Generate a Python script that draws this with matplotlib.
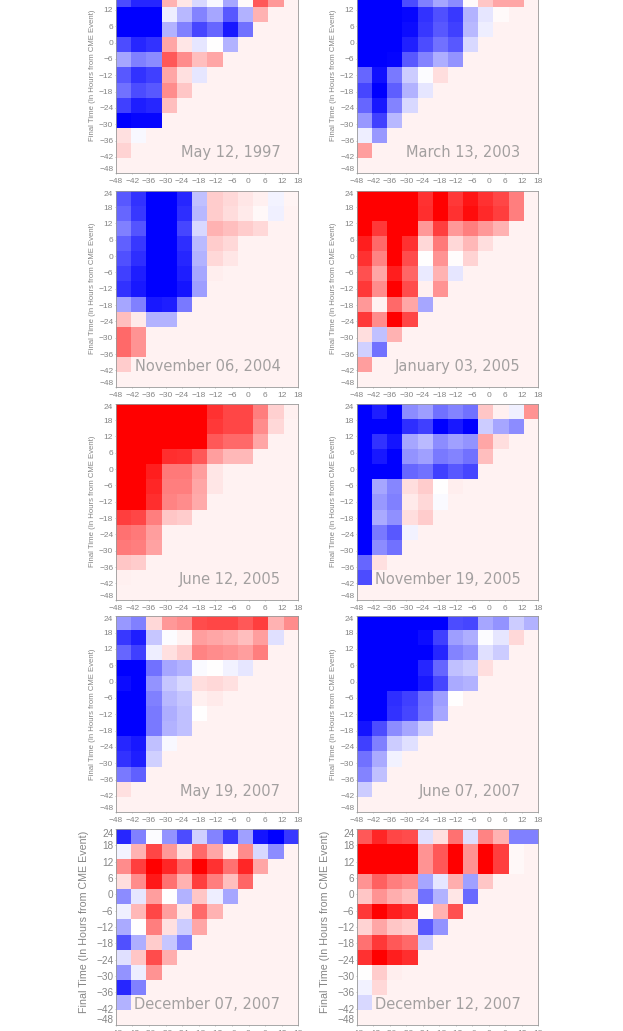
import numpy as np
import matplotlib
matplotlib.use('Agg')
import matplotlib.pyplot as plt

FONDO = 5  # valor del triangulo vacio, rosa muy claro

x_ticks = ['\u221248', '\u221242', '\u221236', '\u221230', '\u221224', '\u221218', '\u221212', '\u22126', '0', '6', '12', '18']
y_ticks = ['24', '18', '12', '6', '0', '\u22126', '\u221212', '\u221218', '\u221224', '\u221230', '\u221236', '\u221242', '\u221248']

# fila 0 del primer par queda fuera de la imagen
may97 = [[np.nan] * 12,
         [-70, -85, -85, 30, 10, -15, -3, -35, 2, 65, 40],
         [-100, -100, -100, -7, -28, -48, -35, -65, -30, 30],
         [-100, -100, -100, -30, -50, -72, -60, -90, -55],
         [-70, -85, -80, 35, 10, -10, 0, -30],
         [-35, -50, -45, 65, 45, 25, 35],
         [-65, -80, -75, 35, 12, -10],
         [-55, -70, -65, 45, 22],
         [-75, -88, -85, 25],
         [-100, -97, -97],
         [12, -3],
         [17],
         []]
mar03 = [[np.nan] * 12,
         [-100, -100, -100, -70, -50, -35, -45, 2, 22, 35, 35],
         [-100, -100, -100, -97, -80, -68, -78, -30, -10, 2],
         [-100, -100, -100, -95, -78, -65, -75, -28, -7],
         [-100, -100, -100, -87, -70, -55, -65, -15],
         [-100, -100, -98, -65, -48, -32, -42],
         [-60, -93, -52, -20, -1, 13],
         [-72, -100, -63, -30, -10],
         [-60, -90, -48, -15],
         [-40, -75, -28],
         [-7, -40],
         [38],
         []]
nov04 = [[-65, -80, -100, -100, -85, -25, 20, 15, 10, 6, -4, 4],
         [-60, -78, -100, -100, -82, -28, 20, 14, 8, 3, -6],
         [-50, -67, -100, -100, -72, -15, 30, 25, 20, 15],
         [-62, -78, -100, -100, -82, -27, 20, 15, 5],
         [-68, -82, -100, -100, -85, -30, 15, 10],
         [-75, -88, -100, -100, -88, -35, 7],
         [-80, -90, -100, -100, -92, -38],
         [-35, -50, -90, -88, -52],
         [25, 8, -30, -30],
         [58, 42],
         [58, 42],
         [20],
         []]
ene05 = [[100, 100, 100, 100, 80, 100, 78, 92, 80, 72, 50],
         [100, 100, 100, 100, 82, 100, 80, 95, 83, 75, 50],
         [100, 78, 100, 100, 40, 75, 40, 50, 40, 30],
         [88, 58, 100, 80, 15, 52, 15, 28, 13],
         [80, 48, 100, 70, 0, 42, 1, 17],
         [68, 35, 88, 60, -8, 30, -10],
         [78, 45, 100, 70, 6, 42],
         [40, 5, 58, 35, -35],
         [78, 45, 100, 72],
         [13, -25, 30],
         [-18, -55],
         [38],
         []]
jun05 = [[100, 100, 100, 100, 100, 100, 80, 72, 72, 50, 18, 6],
         [100, 100, 100, 100, 100, 100, 78, 72, 72, 45, 15],
         [100, 100, 100, 100, 100, 100, 65, 58, 58, 35],
         [100, 100, 100, 82, 80, 65, 38, 28, 28],
         [100, 100, 88, 52, 52, 38, 10],
         [100, 100, 85, 50, 50, 35, 10],
         [100, 100, 82, 48, 45, 33],
         [75, 72, 50, 22, 20],
         [55, 52, 38],
         [52, 50, 36],
         [22, 20],
         [6],
         []]
nov05 = [[-100, -88, -100, -45, -38, -55, -48, -55, 22, 6, -6, 42],
         [-100, -100, -100, -82, -75, -100, -90, -100, -20, -35, -45],
         [-100, -80, -92, -35, -27, -45, -37, -42, 35, 13],
         [-100, -90, -100, -42, -37, -52, -48, -55, 25],
         [-100, -100, -100, -60, -55, -75, -65, -72],
         [-100, -35, -47, 13, 20, 0, 7],
         [-100, -40, -50, 8, 15, -2],
         [-100, -33, -43, 13, 20],
         [-100, -52, -65, -5],
         [-100, -45, -55],
         [-60, 12],
         [-70],
         []]
may07 = [[-40, -50, 15, 40, 45, 70, 72, 72, 65, 75, 30, 45],
         [-78, -88, -22, -1, 5, 38, 35, 32, 25, 38, -12],
         [-60, -75, -7, 12, 20, 48, 45, 42, 38, 50],
         [-100, -100, -55, -35, -30, -2, 0, -5, -10],
         [-95, -100, -42, -22, -15, 13, 15, 12],
         [-100, -100, -50, -28, -22, 6, 8],
         [-100, -100, -52, -32, -25, 0],
         [-100, -100, -52, -30, -25],
         [-85, -90, -25, -3],
         [-80, -88, -18],
         [-52, -62],
         [12],
         []]
jun07 = [[-100, -100, -100, -100, -100, -100, -70, -72, -35, -42, -20, -30],
         [-100, -100, -100, -100, -95, -75, -38, -32, -1, -10, 15],
         [-100, -100, -100, -100, -100, -85, -48, -42, -12, -20],
         [-100, -100, -100, -100, -85, -60, -25, -20, 13],
         [-100, -100, -100, -100, -90, -72, -33, -30],
         [-100, -100, -82, -75, -57, -38, 0],
         [-100, -100, -80, -72, -55, -35],
         [-92, -70, -45, -35, -20],
         [-75, -50, -20, -12],
         [-55, -33, -5],
         [-48, -25],
         [-20],
         []]
dic07 = [[-85, -50, -1, -42, -70, -18, -48, -78, -37, -92, -100, -78],
         [-4, 30, 72, 40, 12, 58, 35, 6, 45, -15, -45],
         [45, 75, 100, 85, 60, 100, 80, 55, 85, 35],
         [13, 45, 90, 55, 30, 75, 50, 25, 60],
         [-45, -10, 38, 0, -30, 22, -7, -35],
         [-6, 28, 72, 38, 10, 58, 30],
         [-33, 0, 50, 12, -20, 35],
         [-68, -32, 20, -22, -50],
         [-12, 22, 70, 32],
         [-42, -7, 42],
         [-85, -50],
         [-30],
         []]
dic12 = [[65, 85, 72, 70, -12, 12, 55, -13, 48, 30, -50, -50],
         [100, 100, 100, 100, 42, 65, 100, 42, 100, 75, 3],
         [100, 100, 100, 100, 42, 65, 100, 42, 100, 75, 3],
         [42, 62, 50, 45, -35, -10, 32, -37, 22],
         [22, 42, 32, 25, -55, -30, 10, -58],
         [78, 100, 88, 82, 2, 30, 68],
         [17, 35, 22, 18, -65, -42],
         [55, 78, 65, 58, -20],
         [80, 100, 88, 82],
         [0, 20, 7],
         [-5, 15],
         [-15],
         []]

W, H = 623, 1031
IZQ = [115.7, 356.7]
DER = [298.3, 538.3]
GRIS = '#858585'

paneles = [(may97, 'May 12, 1997', 0, 173.3),
           (mar03, 'March 13, 2003', 1, 173.3),
           (nov04, 'November 06, 2004', 0, 386.7),
           (ene05, 'January 03, 2005', 1, 386.7),
           (jun05, 'June 12, 2005', 0, 599.7),
           (nov05, 'November 19, 2005', 1, 599.7),
           (may07, 'May 19, 2007', 0, 812.3),
           (jun07, 'June 07, 2007', 1, 812.3),
           (dic07, 'December 07, 2007', 0, 1025.0),
           (dic12, 'December 12, 2007', 1, 1025.0)]

plt.rcParams['font.family'] = ['Liberation Sans', 'DejaVu Sans']
fig = plt.figure(figsize=(W / 100, H / 100), dpi=100, facecolor='white')

for filas, titulo, col, abajo in paneles:
    izq, der = IZQ[col], DER[col]
    alto = 196.0
    ax = fig.add_axes([izq / W, 1 - abajo / H, (der - izq) / W, alto / H])

    # rellenar el triangulo vacio
    m = np.array([f + [FONDO] * (12 - len(f)) for f in filas], dtype=float)
    ax.imshow(m, cmap='bwr', vmin=-100, vmax=100, extent=(0, 12, 13, 0),
              aspect='auto', interpolation='nearest')

    grande = abajo > 1000
    fs = 7.2 if grande else 6.0
    ax.set_xticks(np.linspace(0, 12, 12))
    ax.set_xticklabels(x_ticks, fontsize=6.0, color=GRIS)
    ax.set_yticks(np.linspace(0, 13, 13))
    etiquetas = ax.set_yticklabels(y_ticks, fontsize=fs, color=GRIS)
    etiquetas[0].set_va('top')
    etiquetas[-1].set_va('bottom')
    ax.tick_params(axis='both', length=1, width=0.5, color='#aaaaaa', pad=0.8)
    ax.tick_params(axis='x', pad=2.6)
    for s in ax.spines.values():
        s.set_linewidth(0.6)
        s.set_color('#999999')

    ax.text(0.902, 0.105, titulo, transform=ax.transAxes, ha='right', va='center',
            fontsize=10.5, color='#a3a0a0', family='DejaVu Sans')

    # etiqueta del eje y, mas grande en la ultima fila
    if grande:
        fig.text((izq - 32) / W, 1 - 922 / H, 'Final Time (In Hours from CME Event)',
                 rotation=90, ha='center', va='center', fontsize=7.7, color=GRIS)
    else:
        fig.text((izq - 23.5) / W, 1 - (abajo - 98.5) / H, 'Final Time (In Hours from CME Event)',
                 rotation=90, ha='center', va='center', fontsize=5.6, color=GRIS)

fig.savefig('out.png', dpi=100)
